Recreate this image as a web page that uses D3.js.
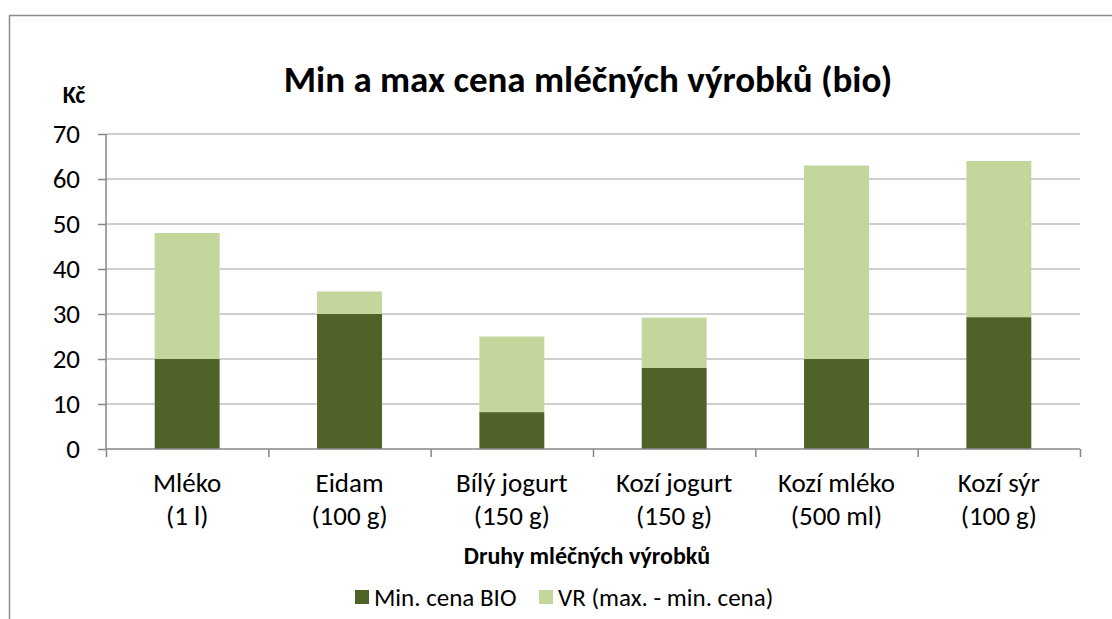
<!DOCTYPE html>
<html>
  <head>
    <meta charset="utf-8">
    <title>Min a max cena mléčných výrobků (bio)</title>
    <script src="https://d3js.org/d3.v7.min.js"></script>
    <style>
      body { margin: 0; background: #fff; }
      svg { display: block; font-family: Carlito, Lato, sans-serif; }
      .grid line { stroke: #bfbfbf; stroke-width: 1.5; }
      .axis path, .axis line { stroke: #878787; stroke-width: 1.5; }
    </style>
  </head>
  <body>
    <svg id="chart" width="1112" height="619"></svg>
    <script>
      // data
      var categories = [["Mléko", "(1 l)"], ["Eidam", "(100 g)"], ["Bílý jogurt", "(150 g)"],
                        ["Kozí jogurt", "(150 g)"], ["Kozí mléko", "(500 ml)"], ["Kozí sýr", "(100 g)"]];
      var minPrice = [20, 30, 8.2, 18, 20, 29.3];
      var range = [28, 5, 16.8, 11.2, 43, 34.7];
      var yTicks = [0, 10, 20, 30, 40, 50, 60, 70];
      var seriesNames = ["Min. cena BIO", "VR (max. - min. cena)"];
      var colours = ["#4f6228", "#c3d69b"];

      var svg = d3.select("#chart");
      var plotLeft = 106, plotRight = 1080, plotTop = 134, plotBottom = 449;

      // outer chart border (only left and top visible)
      svg.append("path")
        .attr("d", "M9.5,619V15.5H1112")
        .attr("fill", "none")
        .attr("stroke", "#8c8c8c")
        .attr("stroke-width", 1.5);

      var x = d3.scaleBand()
        .domain(d3.range(categories.length))
        .range([plotLeft, plotRight])
        .paddingInner(0.6)
        .paddingOuter(0.3);
      var xEdges = d3.scaleLinear().domain([0, categories.length]).range([plotLeft, plotRight]);
      var y = d3.scaleLinear().domain([0, 70]).range([plotBottom, plotTop]);

      // gridlines
      svg.append("g").attr("class", "grid")
        .selectAll("line")
          .data(yTicks.slice(1))
        .enter().append("line")
          .attr("x1", plotLeft).attr("x2", plotRight)
          .attr("y1", function(d) { return y(d); })
          .attr("y2", function(d) { return y(d); });

      // stacked bars
      var stackData = categories.map(function(c, i) { return { i: i, min: minPrice[i], vr: range[i] }; });
      var stacked = d3.stack().keys(["min", "vr"])(stackData);
      svg.append("g").selectAll("g")
          .data(stacked)
        .enter().append("g")
          .attr("fill", function(d, k) { return colours[k]; })
        .selectAll("rect")
          .data(function(d) { return d; })
        .enter().append("rect")
          .attr("x", function(d) { return x(d.data.i); })
          .attr("width", x.bandwidth())
          .attr("y", function(d) { return y(d[1]); })
          .attr("height", function(d) { return y(d[0]) - y(d[1]); });

      // y axis
      var yAxis = svg.append("g").attr("class", "axis")
        .attr("transform", "translate(" + plotLeft + ",0)")
        .call(d3.axisLeft(y).tickValues(yTicks).tickSize(8).tickPadding(18).tickSizeOuter(0));
      yAxis.select(".domain").attr("d", "M0," + plotBottom + "V" + plotTop);
      yAxis.selectAll("text")
        .style("font-family", "Carlito, Lato, sans-serif")
        .style("font-size", "27px")
        .style("fill", "#000");

      // x axis
      var xAxis = svg.append("g").attr("class", "axis")
        .attr("transform", "translate(0," + plotBottom + ")")
        .call(d3.axisBottom(xEdges).tickValues(d3.range(categories.length + 1)).tickSize(8).tickFormat(""));
      xAxis.select(".domain").attr("d", "M" + plotLeft + ",0H" + plotRight);

      var catLabels = svg.append("g")
        .selectAll("text")
          .data(categories)
        .enter().append("text")
          .attr("text-anchor", "middle")
          .attr("font-size", 27)
          .attr("x", function(d, i) { return x(i) + x.bandwidth() / 2; })
          .attr("y", 492);
      catLabels.append("tspan").text(function(d) { return d[0]; });
      catLabels.append("tspan")
        .attr("x", function(d, i) { return x(i) + x.bandwidth() / 2; })
        .attr("dy", 33)
        .text(function(d) { return d[1]; });

      // titles
      svg.append("text")
        .attr("x", 588).attr("y", 92)
        .attr("text-anchor", "middle")
        .attr("font-size", 37).attr("font-weight", "bold")
        .text("Min a max cena mléčných výrobků (bio)");
      svg.append("text")
        .attr("x", 74).attr("y", 103)
        .attr("text-anchor", "middle")
        .attr("font-size", 24).attr("font-weight", "bold")
        .text("Kč");
      svg.append("text")
        .attr("x", 587).attr("y", 564)
        .attr("text-anchor", "middle")
        .attr("font-size", 24).attr("font-weight", "bold")
        .text("Druhy mléčných výrobků");

      // legend
      var legendX = [355, 539];
      var legend = svg.append("g").selectAll("g")
          .data(seriesNames)
        .enter().append("g")
          .attr("transform", function(d, i) { return "translate(" + legendX[i] + ",590)"; });
      legend.append("rect")
        .attr("width", 14).attr("height", 14)
        .attr("fill", function(d, i) { return colours[i]; });
      legend.append("text")
        .attr("x", 19).attr("y", 16)
        .attr("font-size", 25)
        .text(function(d) { return d; });
    </script>
  </body>
</html>
